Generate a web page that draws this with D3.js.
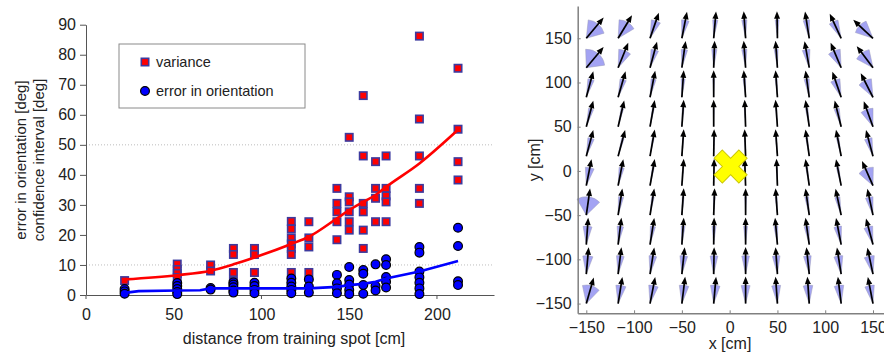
<!DOCTYPE html>
<html>
<head>
<meta charset="utf-8">
<script src="https://cdn.jsdelivr.net/npm/d3@7"></script>
<style>
  body { margin: 0; background: #fff; }
  svg { display: block; font-family: "Liberation Sans", Arial, sans-serif; }
</style>
</head>
<body>
<div id="chart"></div>
<script>
// ---- left panel: error / variance vs distance ----
const distances = [22, 52, 71, 84, 96, 117, 127, 143, 150, 158, 165, 171, 190, 212];

const varianceValues = [
  [4.8],
  [10.3, 8.5, 7.2, 5.8],
  [10, 8],
  [15.5, 13.5, 7.5, 4.5],
  [15.5, 13.5, 7.5],
  [24.5, 22, 19, 17, 15.5, 13.5, 7.5],
  [24.4, 19, 16, 7.5],
  [35.5, 30.5, 27.7, 24.4, 18.4],
  [52.5, 32.7, 31, 27.7, 24.4, 21.6],
  [66.4, 46.3, 30.5, 27.7, 21.6, 15.5],
  [44.4, 35.5, 32.2, 24.4],
  [46.3, 35.5, 33, 31, 24.4],
  [86.2, 58.6, 46.3, 35.5, 30.5],
  [75.5, 55.2, 44.4, 38.3]
];

const errorValues = [
  [2, 1.2, 0.4],
  [4, 3, 2, 1, 0.3],
  [2.3, 1.8],
  [4.2, 3.5, 2.6, 1.5, 0.8],
  [4.1, 3, 1.7, 0.6],
  [5.5, 4.1, 2.8, 1.7, 0.6],
  [5.2, 2.8, 0.8],
  [6.7, 3.9, 2.2, 0.6],
  [9.3, 5, 3.5, 1.7, 0.3],
  [8.3, 7.1, 3.3, 0.4],
  [10.2, 3, 1.5],
  [11.9, 10, 6, 4.4, 2.5],
  [16, 14.1, 7.8, 5.9, 4.1, 2.2, 0.3],
  [22.4, 16.3, 4.6, 3.3]
];

const varianceFit = [5.2, 6.6, 8.1, 10.2, 12.5, 17, 19.4, 25.5, 28.3, 31, 33.3, 36, 43.8, 55];
const errorFitX = [22, 30, 52, 65, 71, 96, 127, 143, 150, 158, 165, 171, 190, 212];
const errorFit = [0.7, 1.3, 1.5, 1.6, 2.2, 2.2, 2.2, 2.7, 3.3, 3.7, 4.4, 5.5, 7.8, 11.3];

const yTicks = [0, 10, 20, 30, 40, 50, 60, 70, 80, 90];
const xTicks = [0, 50, 100, 150, 200];
const gridValues = [10, 50];

// ---- right panel: heading field ----
const gridX = [-150, -116.7, -83.3, -50, -16.7, 16.7, 50, 83.3, 116.7, 150];
const gridY = [150, 116.7, 83.3, 50, 16.7, -16.7, -50, -83.3, -116.7, -150];

// heading in degrees, clockwise from north; one row per gridY
const headingDeg = [
  [40, 31, 19, 11, 5, -4, -1, -9, -25, -47],
  [40, 22, 15, 8, 2, -4, -4, -10, -23, -37],
  [15, 16, 11, 4, 0, -4, -4, -8, -19, -27],
  [15, 13, 10, 4, 0, -2, -4, -8, -14, -20],
  [15, 15, 10, 4, 1, -2, -4, -8, -11, -15],
  [11, 11, 10, 4, 1, -2, -2, -8, -11, -24],
  [8, 9, 9, 4, 2, 0, -4, -8, -12, -12],
  [4, 7, 9, 4, 1, 0, -5, -8, -11, -15],
  [5, 7, 9, 6, 1, 0, -4, -6, -9, -12],
  [16, 9, 11, 7, 5, 0, -4, -4, -7, -11]
];

// half width of the confidence sector, degrees
const ciHalfDeg = [
  [34, 28, 15, 12, 8, 8, 6, 10, 15, 25],
  [42, 20, 12, 10, 8, 8, 6, 12, 20, 25],
  [10, 10, 8, 6, 3, 4, 3, 8, 15, 22],
  [8, 4, 3, 3, 2, 2, 2, 4, 8, 20],
  [10, 4, 3, 2, 2, 2, 2, 3, 4, 12],
  [14, 8, 3, 2, 2, 2, 2, 3, 4, 25],
  [38, 8, 4, 3, 3, 3, 3, 6, 8, 12],
  [14, 10, 8, 6, 6, 6, 6, 8, 12, 14],
  [16, 12, 12, 12, 12, 12, 12, 12, 14, 16],
  [28, 16, 15, 15, 15, 14, 14, 15, 15, 15]
];

const trainingSpot = [1, 5];
const rTicks = [-150, -100, -50, 0, 50, 100, 150];

const svg = d3.select('#chart')
  .append('svg')
  .attr('width', 884)
  .attr('height', 352);

svg.append('rect').attr('width', 884).attr('height', 352).attr('fill', '#fff');

// ================= left panel =================
const x = d3.scaleLinear().domain([0, 232.5]).range([86, 494]);
const y = d3.scaleLinear().domain([0, 90]).range([295, 24.7]);

const left = svg.append('g');

left.selectAll('line.grid')
  .data(gridValues)
  .enter()
  .append('line')
  .attr('class', 'grid')
  .attr('x1', x(0))
  .attr('x2', x(232.5))
  .attr('y1', d => y(d))
  .attr('y2', d => y(d))
  .attr('stroke', '#bdbdbd')
  .attr('stroke-dasharray', '1,2');

const yAxis = left.append('g')
  .attr('transform', `translate(${x(0)},0)`)
  .call(d3.axisLeft(y).tickValues(yTicks).tickSize(6).tickSizeOuter(0).tickPadding(4));

const xAxis = left.append('g')
  .attr('transform', `translate(0,${y(0)})`)
  .call(d3.axisBottom(x).tickValues(xTicks).tickSize(0).tickSizeOuter(0).tickPadding(14));

[yAxis, xAxis].forEach(g => {
  g.select('.domain').attr('stroke', '#555');
  g.selectAll('.tick line').attr('stroke', '#555');
  g.selectAll('text').attr('font-size', 16).attr('fill', '#222')
    .attr('font-family', '"Liberation Sans", Arial, sans-serif');
});

left.selectAll('line.xtick')
  .data([0, 100, 200])
  .enter()
  .append('line')
  .attr('x1', d => x(d))
  .attr('x2', d => x(d))
  .attr('y1', y(0))
  .attr('y2', y(0) + 4)
  .attr('stroke', '#555');

const varPts = [];
distances.forEach((d, i) => varianceValues[i].forEach(v => varPts.push([d, v])));
const errPts = [];
distances.forEach((d, i) => errorValues[i].forEach(v => errPts.push([d, v])));

left.selectAll('rect.var')
  .data(varPts)
  .enter()
  .append('rect')
  .attr('x', d => x(d[0]) - 3.7)
  .attr('y', d => y(d[1]) - 3.7)
  .attr('width', 7.4)
  .attr('height', 7.4)
  .attr('fill', '#ff0000')
  .attr('stroke', '#3d3a9e')
  .attr('stroke-width', 1.6);

left.selectAll('circle.err')
  .data(errPts)
  .enter()
  .append('circle')
  .attr('cx', d => x(d[0]))
  .attr('cy', d => y(d[1]))
  .attr('r', 4.4)
  .attr('fill', '#0000ff')
  .attr('stroke', '#000')
  .attr('stroke-width', 1.2);

const redLine = d3.line().x((d, i) => x(distances[i])).y(d => y(d)).curve(d3.curveMonotoneX);
left.append('path')
  .datum(varianceFit)
  .attr('d', redLine)
  .attr('fill', 'none')
  .attr('stroke', '#ff0000')
  .attr('stroke-width', 2.6);

const blueLine = d3.line().x((d, i) => x(errorFitX[i])).y(d => y(d));
left.append('path')
  .datum(errorFit)
  .attr('d', blueLine)
  .attr('fill', 'none')
  .attr('stroke', '#0000ff')
  .attr('stroke-width', 2.6);

// legend
const legend = left.append('g');
legend.append('rect')
  .attr('x', 119).attr('y', 44).attr('width', 186).attr('height', 64)
  .attr('fill', '#fff').attr('stroke', '#8a8a8a');
legend.append('rect')
  .attr('x', 141.3).attr('y', 58.3).attr('width', 7.4).attr('height', 7.4)
  .attr('fill', '#ff0000').attr('stroke', '#3d3a9e').attr('stroke-width', 1.6);
legend.append('circle')
  .attr('cx', 145).attr('cy', 91).attr('r', 4.4)
  .attr('fill', '#0000ff').attr('stroke', '#000').attr('stroke-width', 1.2);
legend.append('text').attr('x', 156).attr('y', 67).text('variance');
legend.append('text').attr('x', 156).attr('y', 96).text('error in orientation');
legend.selectAll('text').attr('font-size', 14.5).attr('fill', '#222');

// axis titles
left.append('text')
  .attr('transform', 'translate(25.5,160) rotate(-90)')
  .attr('text-anchor', 'middle')
  .attr('font-size', 15).attr('fill', '#222')
  .text('error in orientation [deg]');
left.append('text')
  .attr('transform', 'translate(43.5,160) rotate(-90)')
  .attr('text-anchor', 'middle')
  .attr('font-size', 15).attr('fill', '#222')
  .text('confidence interval [deg]');
left.append('text')
  .attr('x', 294).attr('y', 344)
  .attr('text-anchor', 'middle')
  .attr('font-size', 16).attr('fill', '#222')
  .text('distance from training spot [cm]');

// ================= right panel =================
const xr = d3.scaleLinear().domain([-159, 161]).range([577.7, 883.5]);
const yr = d3.scaleLinear().domain([-161, 186.5]).range([313.3, 6]);

const right = svg.append('g');

const cells = [];
gridY.forEach((gy, r) => gridX.forEach((gx, c) => {
  cells.push({ gx, gy, h: headingDeg[r][c], ci: ciHalfDeg[r][c] });
}));

const rad = Math.PI / 180;
const wedge = d3.arc()
  .innerRadius(0)
  .outerRadius(18.5)
  .startAngle(d => (d.h - d.ci) * rad)
  .endAngle(d => (d.h + d.ci) * rad);

right.selectAll('path.wedge')
  .data(cells)
  .enter()
  .append('path')
  .attr('transform', d => `translate(${xr(d.gx)},${yr(d.gy)})`)
  .attr('d', wedge)
  .attr('fill', '#a3a3f3')
  .attr('stroke', '#9a9ab8')
  .attr('stroke-width', 0.5);

const arrowLen = 27;
const headLen = 7.5;
const headHalf = 3;

const arrows = right.selectAll('g.arrow')
  .data(cells)
  .enter()
  .append('g')
  .attr('transform', d => `translate(${xr(d.gx)},${yr(d.gy)}) rotate(${d.h})`);

arrows.append('line')
  .attr('x1', 0).attr('y1', 0)
  .attr('x2', 0).attr('y2', -(arrowLen - headLen + 1))
  .attr('stroke', '#000')
  .attr('stroke-width', 1.7);

arrows.append('path')
  .attr('d', `M0,${-arrowLen} L${headHalf},${-arrowLen + headLen} L${-headHalf},${-arrowLen + headLen} Z`)
  .attr('fill', '#000');

right.append('path')
  .attr('transform', `translate(${xr(trainingSpot[0])},${yr(trainingSpot[1])}) rotate(45)`)
  .attr('d', d3.symbol(d3.symbolCross, 680)())
  .attr('fill', '#ffff00')
  .attr('stroke', '#c9c400')
  .attr('stroke-width', 1);

const ryAxis = right.append('g')
  .attr('transform', `translate(${xr(-159)},0)`)
  .call(d3.axisLeft(yr).tickValues(rTicks).tickSizeInner(-3).tickSizeOuter(0).tickPadding(6));

const rxAxis = right.append('g')
  .attr('transform', `translate(0,${yr(-161)})`)
  .call(d3.axisBottom(xr).tickValues(rTicks).tickSizeInner(-3).tickSizeOuter(0).tickPadding(8));

[ryAxis, rxAxis].forEach(g => {
  g.select('.domain').attr('stroke', '#808080').attr('stroke-width', 1.5);
  g.selectAll('.tick line').attr('stroke', '#808080');
  g.selectAll('text').attr('font-size', 16).attr('fill', '#222')
    .attr('font-family', '"Liberation Sans", Arial, sans-serif');
});

right.append('text')
  .attr('x', 730).attr('y', 348.5)
  .attr('text-anchor', 'middle')
  .attr('font-size', 16).attr('fill', '#222')
  .text('x [cm]');
right.append('text')
  .attr('transform', 'translate(540,160) rotate(-90)')
  .attr('text-anchor', 'middle')
  .attr('font-size', 16).attr('fill', '#222')
  .text('y [cm]');
</script>
</body>
</html>
